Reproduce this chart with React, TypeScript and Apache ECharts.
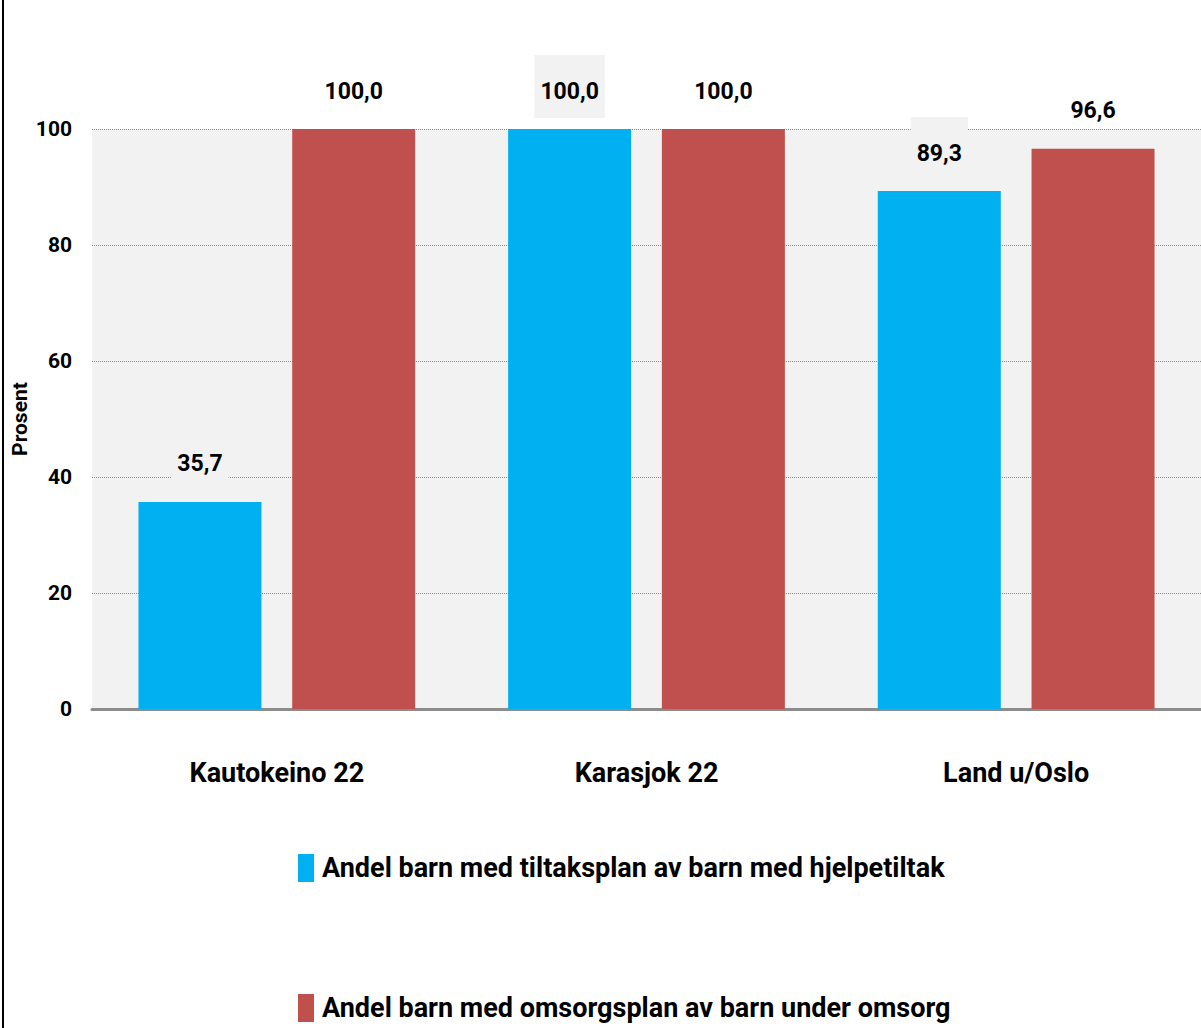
import React, { useEffect, useRef } from "react";
import * as echarts from "echarts";

const categories = ["Kautokeino 22", "Karasjok 22", "Land u/Oslo"];
const seriesNames = [
  "Andel barn med tiltaksplan av barn med hjelpetiltak",
  "Andel barn med omsorgsplan av barn under omsorg",
];
const tiltaksplan = [35.7, 100.0, 89.3];
const omsorgsplan = [100.0, 100.0, 96.6];
const yTicks = [0, 20, 40, 60, 80, 100];

const FONT = "Roboto, 'Liberation Sans', sans-serif";

export default function App() {
  const ref = useRef<HTMLDivElement>(null);
  useEffect(() => {
    if (!ref.current) return;
    const chart = echarts.init(ref.current, null, { renderer: "svg" });
    const fmt = (p: any) => Number(p.value).toFixed(1).replace(".", ",");
    const labelBase = {
      show: true,
      position: "top",
      distance: 11,
      formatter: fmt,
      fontFamily: FONT,
      fontWeight: "bold",
      fontSize: 23,
      lineHeight: 28,
      color: "#000",
      padding: [22, 6, 13, 6],
    };
    chart.setOption({
      animation: false,
      backgroundColor: "#fff",
      grid: {
        left: 92,
        right: 0,
        top: 129,
        bottom: 319,
        show: true,
        backgroundColor: "#f2f2f2",
        borderWidth: 0,
        containLabel: false,
        outerBoundsMode: "none",
      },
      legend: {
        orient: "vertical",
        left: 298,
        top: 854,
        padding: 0,
        itemWidth: 16,
        itemHeight: 28,
        itemGap: 112,
        icon: "rect",
        data: seriesNames,
        textStyle: {
          fontFamily: FONT,
          fontWeight: "bold",
          fontSize: 27,
          lineHeight: 28,
          color: "#000",
          padding: [0, 0, 0, 3],
        },
      },
      xAxis: {
        type: "category",
        data: categories,
        axisLine: { show: true, lineStyle: { color: "#8c8c8c", width: 3 } },
        axisTick: { show: false },
        axisLabel: {
          margin: 50,
          fontFamily: FONT,
          fontWeight: "bold",
          fontSize: 27,
          color: "#000",
        },
      },
      yAxis: {
        type: "value",
        min: yTicks[0],
        max: yTicks[yTicks.length - 1],
        interval: yTicks[1] - yTicks[0],
        name: "Prosent",
        nameLocation: "middle",
        nameGap: 62,
        nameMoveOverlap: false,
        nameRotate: 90,
        nameTextStyle: {
          fontFamily: FONT,
          fontWeight: "bold",
          fontSize: 21,
          color: "#000",
        },
        axisLine: { show: false },
        axisTick: { show: false },
        axisLabel: {
          margin: 20,
          fontFamily: FONT,
          fontWeight: "bold",
          fontSize: 21,
          color: "#000",
        },
        splitLine: {
          show: true,
          lineStyle: { type: "dotted", color: "#8a8a8a", width: 1 },
        },
      },
      series: [
        {
          name: seriesNames[0],
          type: "bar",
          data: tiltaksplan,
          barWidth: 123,
          barGap: "25%",
          itemStyle: { color: "#00b0f0" },
          label: { ...labelBase, backgroundColor: "#f2f2f2" },
        },
        {
          name: seriesNames[1],
          type: "bar",
          data: omsorgsplan,
          barWidth: 123,
          barGap: "25%",
          itemStyle: { color: "#c0504d" },
          label: { ...labelBase },
        },
      ],
      graphic: [
        {
          type: "rect",
          left: 2,
          top: 0,
          shape: { width: 2, height: 1028 },
          style: { fill: "#000" },
        },
      ],
    });
    return () => chart.dispose();
  }, []);
  return (
    <div
      ref={ref}
      style={{ position: "fixed", left: 0, top: 0, width: 1201, height: 1028 }}
    />
  );
}
